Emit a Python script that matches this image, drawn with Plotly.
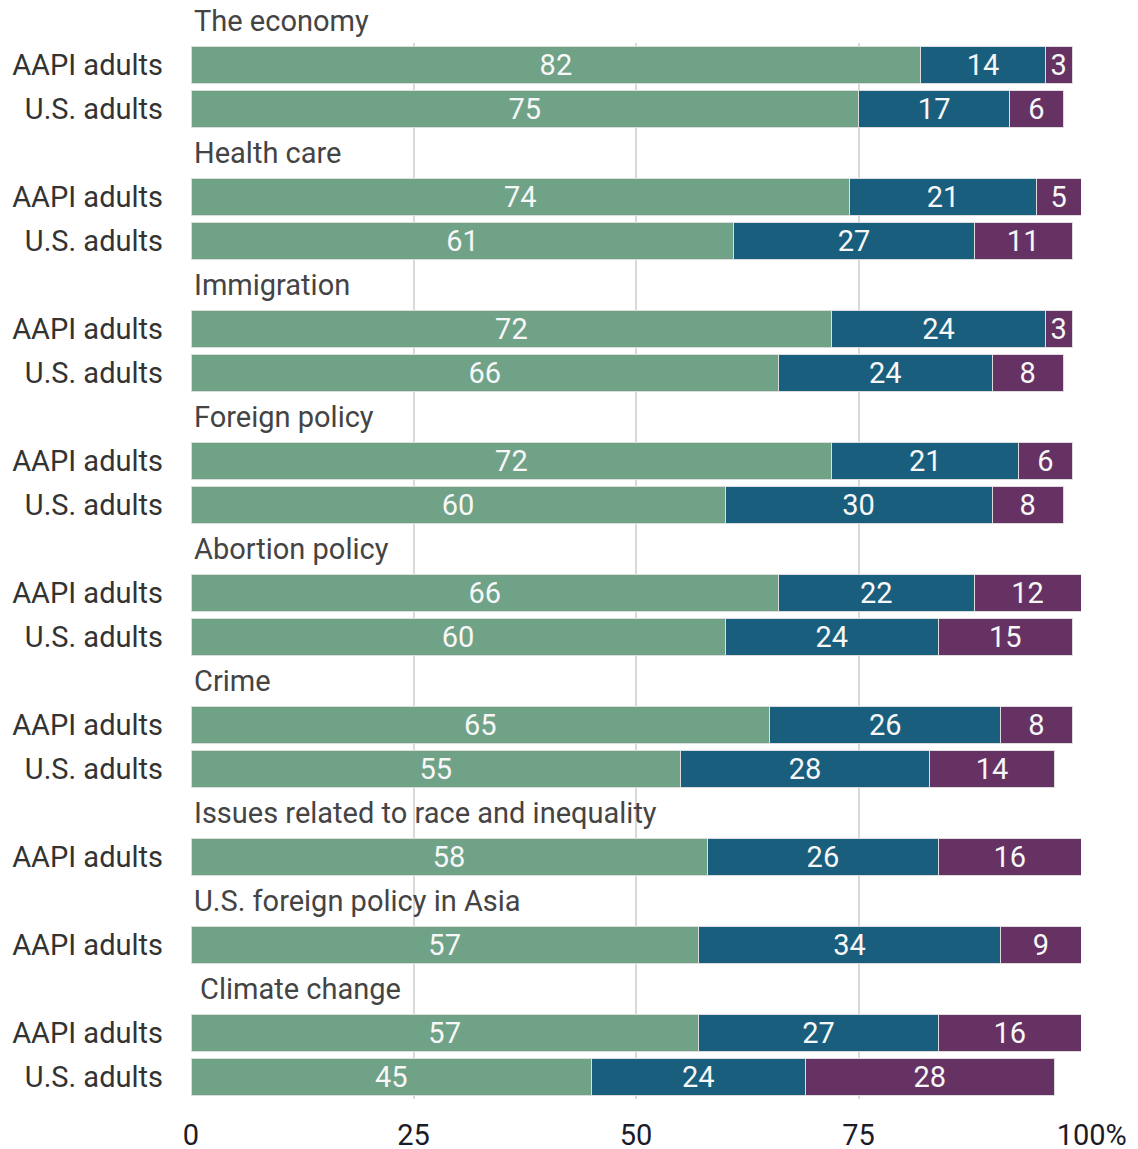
import plotly.graph_objects as go

# Survey groups (topic headers) and the respondents shown under each one
topics = [
    "The economy",
    "Health care",
    "Immigration",
    "Foreign policy",
    "Abortion policy",
    "Crime",
    "Issues related to race and inequality",
    "U.S. foreign policy in Asia",
    "Climate change",
]
respondents = [
    ["AAPI adults", "U.S. adults"],
    ["AAPI adults", "U.S. adults"],
    ["AAPI adults", "U.S. adults"],
    ["AAPI adults", "U.S. adults"],
    ["AAPI adults", "U.S. adults"],
    ["AAPI adults", "U.S. adults"],
    ["AAPI adults"],
    ["AAPI adults"],
    ["AAPI adults", "U.S. adults"],
]

# Shares (%) for the three stacked segments, one list per topic
very_important = [[82, 75], [74, 61], [72, 66], [72, 60], [66, 60], [65, 55], [58], [57], [57, 45]]
somewhat_important = [[14, 17], [21, 27], [24, 24], [21, 30], [22, 24], [26, 28], [26], [34], [27, 24]]
less_important = [[3, 6], [5, 11], [3, 8], [6, 8], [12, 15], [8, 14], [16], [9], [16, 28]]

x_ticks = [0, 25, 50, 75, 100]
x_tick_labels = ["0", "25", "50", "75", "\u00a0\u00a0\u00a0100%"]

segment_colors = ["#6fa287", "#1a5e7d", "#653263"]
segment_names = ["Very important", "Somewhat important", "Less important"]

FONT = "Roboto"
FS = 29

# Lay out rows: each topic header takes one slot, followed by its bars
header_pos, bar_pos, bar_labels = [], [], []
seg_values = [[], [], []]
slot = 0
for t, rows in enumerate(topics):
    header_pos.append(slot)
    slot += 1
    for r, who in enumerate(respondents[t]):
        bar_pos.append(slot)
        bar_labels.append(who)
        seg_values[0].append(very_important[t][r])
        seg_values[1].append(somewhat_important[t][r])
        seg_values[2].append(less_important[t][r])
        slot += 1

y_top = 0.5
y_bottom = slot - 0.5
plot_h = 1149 - 43 - 50
px_per_slot = plot_h / (y_bottom - y_top)

fig = go.Figure()
for i in range(3):
    fig.add_trace(go.Bar(
        x=seg_values[i],
        y=bar_pos,
        orientation="h",
        name=segment_names[i],
        marker=dict(color=segment_colors[i], line=dict(color="#dcdcdc", width=1)),
        width=0.82,
        text=[str(v) for v in seg_values[i]],
        textposition="inside",
        insidetextanchor="middle",
        textangle=0,
        textfont=dict(family=FONT, size=FS, color="#f7f7f7"),
        hoverinfo="skip",
        cliponaxis=False,
    ))

# Topic headers (the first sits just above the plotting area)
for t, name in enumerate(topics):
    pos = header_pos[t]
    shift = 0
    if pos < y_top:
        shift = (y_top - pos) * px_per_slot
        pos = y_top
    fig.add_annotation(
        x=0, y=pos, xref="x", yref="y",
        text=name, showarrow=False,
        xanchor="left", yanchor="middle",
        xshift=7 if name == "Climate change" else 1,
        yshift=shift,
        font=dict(family=FONT, size=FS, color="#444444"),
    )

fig.update_layout(
    width=1138, height=1149,
    margin=dict(l=191, r=57, t=43, b=50),
    barmode="stack",
    showlegend=False,
    plot_bgcolor="white",
    paper_bgcolor="white",
    uniformtext=dict(minsize=FS, mode="show"),
    font=dict(family=FONT),
)
fig.update_xaxes(
    range=[0, 100],
    tickvals=x_ticks,
    ticktext=x_tick_labels,
    showgrid=True, gridcolor="#d9d9d9", gridwidth=2,
    zeroline=False, showline=False,
    ticks="", ticklabelstandoff=16,
    automargin=False,
    tickfont=dict(family=FONT, size=FS, color="#1c1c28"),
    fixedrange=True,
)
fig.update_yaxes(
    range=[y_bottom, y_top],
    tickvals=bar_pos,
    ticktext=bar_labels,
    showgrid=False, zeroline=False, showline=False,
    ticks="", ticklabelstandoff=27,
    automargin=False,
    tickfont=dict(family=FONT, size=FS, color="#333333"),
    fixedrange=True,
)

fig.write_html("out.html")
